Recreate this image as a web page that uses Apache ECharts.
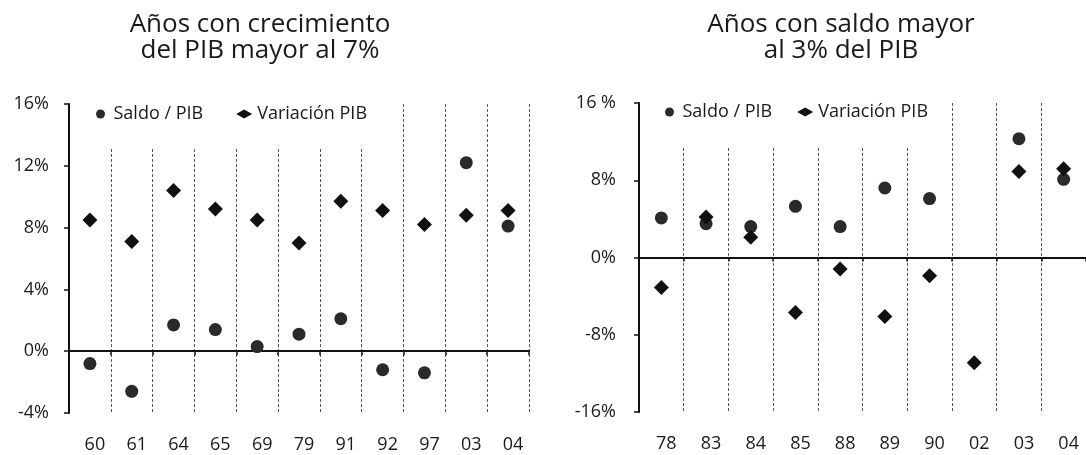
<!DOCTYPE html>
<html>
<head>
<meta charset="utf-8">
<script src="https://cdn.jsdelivr.net/npm/echarts@6/dist/echarts.min.js"></script>
<style>
html,body{margin:0;padding:0;background:#fff;}
#chart{width:1086px;height:455px;}
</style>
</head>
<body>
<div id="chart"></div>
<script>
// ---- Data ----
const leftCategories = ['60','61','64','65','69','79','91','92','97','03','04'];
const leftSaldo      = [-0.8, -2.6, 1.7, 1.4, 0.3, 1.1, 2.1, -1.2, -1.4, 12.2, 8.1];
const leftVariacion  = [8.5, 7.1, 10.4, 9.2, 8.5, 7.0, 9.7, 9.1, 8.2, 8.8, 9.1];
const leftYTicks     = ['-4%','0%','4%','8%','12%','16%'];

const rightCategories = ['78','83','84','85','88','89','90','02','03','04'];
const rightSaldo      = [4.1, 3.5, 3.2, 5.3, 3.2, 7.2, 6.1, null, 12.3, 8.1];
const rightVariacion  = [-3.1, 4.2, 2.1, -5.7, -1.2, -6.1, -1.9, -10.9, 8.9, 9.2];
const rightYTicks     = ['-16%','-8%','0%','8%','16 %'];

const titles = ['Años con crecimiento\ndel PIB mayor al 7%', 'Años con saldo mayor\nal 3% del PIB'];
const seriesNames = ['Saldo / PIB', 'Variación PIB'];

// ---- Styles ----
const FONT = '"Open Sans", "Noto Sans", sans-serif';
const TXT = '#1a1a1a';
const CIRCLE_COLOR = '#2a2a2a';
const DIAMOND_COLOR = '#111';

const chart = echarts.init(document.getElementById('chart'), null, {renderer: 'canvas'});

function tickFormatter(labels, min, step) {
  return function (v) {
    const idx = Math.round((v - min) / step);
    return labels[idx] !== undefined ? labels[idx] : '';
  };
}

function zeroXAxis(gridIndex, cats) {
  return {
    type: 'category', gridIndex: gridIndex, data: cats, position: 'bottom',
    axisLine: {show: true, onZero: true, lineStyle: {color: '#111', width: 2}},
    axisTick: {show: true, length: 4, inside: false, lineStyle: {color: '#111', width: 1.5}},
    axisLabel: {show: false},
    splitLine: {show: true, lineStyle: {color: '#5a5a5a', width: 1, type: [3, 2]}}
  };
}
function labelXAxis(gridIndex, cats) {
  return {
    type: 'category', gridIndex: gridIndex, data: cats, position: 'bottom',
    axisLine: {show: false, onZero: false},
    axisTick: {show: false},
    splitLine: {show: false},
    axisLabel: {show: true, margin: 23, fontSize: 18, color: TXT, fontFamily: FONT, interval: 0,
      padding: [0, 0, 0, 10]}
  };
}
function yAxis(gridIndex, min, max, interval, labels, margin) {
  return {
    type: 'value', gridIndex: gridIndex, min: min, max: max, interval: interval,
    axisLine: {show: true, lineStyle: {color: '#111', width: 2}},
    axisTick: {show: true, length: 5, lineStyle: {color: '#111', width: 1.5}},
    splitLine: {show: false},
    axisLabel: {margin: margin, fontSize: 18, color: TXT, fontFamily: FONT,
      formatter: tickFormatter(labels, min, interval)}
  };
}
function circleSeries(name, x, y, data) {
  return {name: name, type: 'scatter', xAxisIndex: x, yAxisIndex: y, data: data,
    symbol: 'circle', symbolSize: 13,
    itemStyle: {color: CIRCLE_COLOR, opacity: 1}, z: 3};
}
function diamondSeries(name, x, y, data) {
  return {name: name, type: 'scatter', xAxisIndex: x, yAxisIndex: y, data: data,
    symbol: 'diamond', symbolSize: 15,
    itemStyle: {color: DIAMOND_COLOR, opacity: 1}, z: 4};
}

const titleStyle = {fontSize: 26, fontWeight: 'normal', color: TXT, fontFamily: FONT, lineHeight: 26};
const legendText = {fontSize: 18, color: TXT, fontFamily: FONT};

const option = {
  backgroundColor: '#fff',
  animation: false,
  textStyle: {fontFamily: FONT},
  title: [
    {text: titles[0], left: 260, top: 12, textAlign: 'center', padding: 0, textStyle: titleStyle},
    {text: titles[1], left: 841, top: 12, textAlign: 'center', padding: 0, textStyle: titleStyle}
  ],
  legend: [
    {data: [{name: seriesNames[0], icon: 'circle'}, {name: seriesNames[1], icon: 'diamond'}],
     left: 96, top: 105, padding: 0, itemWidth: 16, itemHeight: 9, itemGap: 33,
     textStyle: legendText, selectedMode: false},
    {data: [{name: seriesNames[0] + ' ', icon: 'circle'}, {name: seriesNames[1] + ' ', icon: 'diamond'}],
     left: 665, top: 103, padding: 0, itemWidth: 16, itemHeight: 9, itemGap: 25,
     formatter: function (n) { return n.trim(); },
     textStyle: legendText, selectedMode: false}
  ],
  graphic: [
    {type: 'rect', z: 1, shape: {x: 84, y: 96, width: 300, height: 53}, style: {fill: '#fff'}},
    {type: 'rect', z: 1, shape: {x: 655, y: 95, width: 285, height: 52}, style: {fill: '#fff'}}
  ],
  grid: [
    {left: 69, top: 104, width: 460, height: 309, containLabel: false},
    {left: 639, top: 103, width: 457, height: 309, containLabel: false}
  ],
  xAxis: [
    zeroXAxis(0, leftCategories),
    labelXAxis(0, leftCategories),
    zeroXAxis(1, rightCategories),
    labelXAxis(1, rightCategories)
  ],
  yAxis: [
    yAxis(0, -4, 16, 4, leftYTicks, 20),
    yAxis(1, -16, 16, 8, rightYTicks, 23)
  ],
  series: [
    circleSeries(seriesNames[0], 0, 0, leftSaldo),
    diamondSeries(seriesNames[1], 0, 0, leftVariacion),
    circleSeries(seriesNames[0] + ' ', 2, 1, rightSaldo),
    diamondSeries(seriesNames[1] + ' ', 2, 1, rightVariacion)
  ]
};
chart.setOption(option);
</script>
</body>
</html>
